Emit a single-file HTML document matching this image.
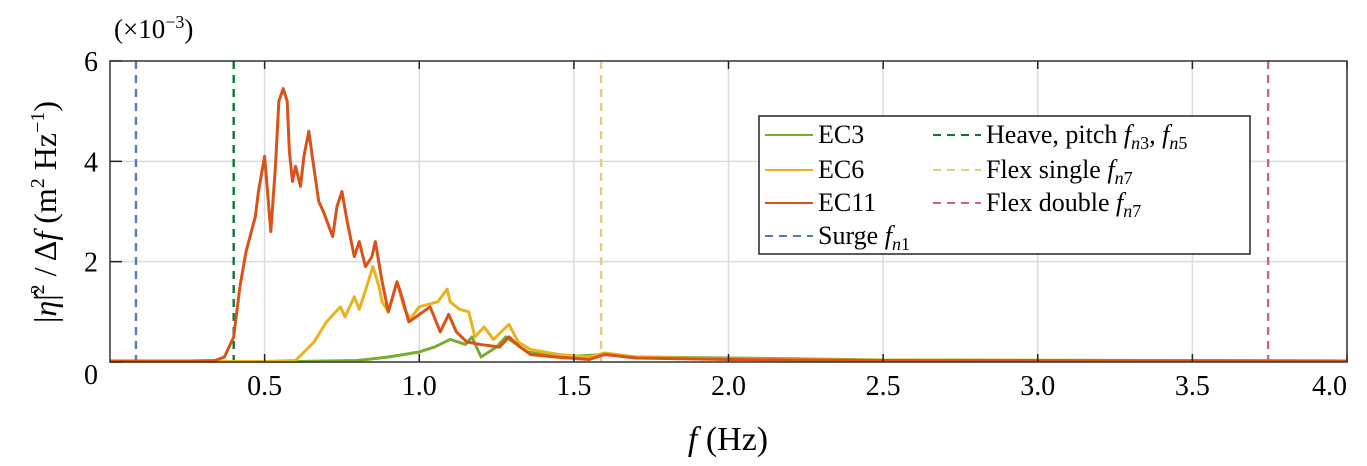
<!DOCTYPE html>
<html><head><meta charset="utf-8"><style>
body{margin:0;background:#fff}
svg{display:block;font-family:"Liberation Serif",serif}
</style></head><body>
<svg id="chart" width="1367" height="466" viewBox="0 0 1367 466">
<g id="grid"></g>
<g id="vlines"></g>
<g id="series"></g>
<g id="axes"></g>
<text x="114" y="38" font-size="27">(×10<tspan dy="-10" font-size="18">−3</tspan><tspan dy="10">)</tspan></text>
<text x="728" y="450" font-size="34" text-anchor="middle"><tspan font-style="italic">f</tspan>  (Hz)</text>
<text transform="translate(56,212) rotate(-90)" font-size="32" text-anchor="middle">|<tspan font-style="italic">η̂</tspan>|<tspan dy="-12" font-size="20">2</tspan><tspan dy="12"> / Δ</tspan><tspan font-style="italic">f</tspan> (m<tspan dy="-12" font-size="20">2</tspan><tspan dy="12"> Hz</tspan><tspan dy="-12" font-size="20">−1</tspan><tspan dy="12">)</tspan></text>
<g>
<rect x="759" y="116" width="491" height="138" fill="#fff" stroke="#222" stroke-width="1.5"/>
<g font-size="26">
<line x1="765" y1="135" x2="813" y2="135" stroke="#77ac30" stroke-width="2"/><text x="818" y="143">EC3</text>
<line x1="765" y1="170" x2="813" y2="170" stroke="#edb120" stroke-width="2"/><text x="818" y="178">EC6</text>
<line x1="765" y1="203" x2="813" y2="203" stroke="#d95319" stroke-width="2"/><text x="818" y="211">EC11</text>
<line x1="765" y1="236" x2="813" y2="236" stroke="#4a7fb5" stroke-width="2" stroke-dasharray="8,6"/><text x="818" y="244">Surge <tspan font-style="italic">f</tspan><tspan font-size="18" dy="6"><tspan font-style="italic">n</tspan>1</tspan></text>
<line x1="933" y1="135" x2="981" y2="135" stroke="#0a7a32" stroke-width="2" stroke-dasharray="8,6"/><text x="986" y="143">Heave, pitch <tspan font-style="italic">f</tspan><tspan font-size="18" dy="6"><tspan font-style="italic">n</tspan>3</tspan><tspan dy="-6">, </tspan><tspan font-style="italic">f</tspan><tspan font-size="18" dy="6"><tspan font-style="italic">n</tspan>5</tspan></text>
<line x1="933" y1="170" x2="981" y2="170" stroke="#e3cc7a" stroke-width="2" stroke-dasharray="8,6"/><text x="986" y="178">Flex single  <tspan font-style="italic">f</tspan><tspan font-size="18" dy="6"><tspan font-style="italic">n</tspan>7</tspan></text>
<line x1="933" y1="203" x2="981" y2="203" stroke="#d4627a" stroke-width="2" stroke-dasharray="8,6"/><text x="986" y="211">Flex double  <tspan font-style="italic">f</tspan><tspan font-size="18" dy="6"><tspan font-style="italic">n</tspan>7</tspan></text>
</g></g>
</svg>
<script>
const xTicks=[0.5,1.0,1.5,2.0,2.5,3.0,3.5,4.0];
const xTickLabels=["0.5","1.0","1.5","2.0","2.5","3.0","3.5","4.0"];
const yTicks=[0,2,4,6];
const yTickLabels=["0","2","4","6"];
const ec11F=[0,0.26,0.34,0.37,0.40,0.42,0.44,0.47,0.48,0.50,0.52,0.535,0.546,0.56,0.573,0.58,0.59,0.60,0.616,0.627,0.643,0.654,0.675,0.69,0.72,0.734,0.75,0.767,0.79,0.806,0.826,0.847,0.858,0.88,0.90,0.928,0.944,0.966,0.99,1.035,1.068,1.095,1.12,1.154,1.197,1.26,1.29,1.326,1.36,1.44,1.55,1.6,1.7,2.0,2.5,4.0];
const ec11V=[0.02,0.02,0.03,0.1,0.5,1.5,2.2,2.9,3.4,4.1,2.6,3.9,5.2,5.45,5.2,4.2,3.6,3.9,3.5,4.1,4.6,4.1,3.2,3.0,2.5,3.1,3.4,2.8,2.1,2.4,1.9,2.1,2.4,1.6,1.0,1.6,1.3,0.8,0.9,1.1,0.6,0.95,0.6,0.4,0.35,0.3,0.5,0.3,0.15,0.1,0.05,0.15,0.08,0.05,0.03,0.02];
const ec6F=[0,0.5,0.6,0.62,0.66,0.7,0.745,0.76,0.79,0.806,0.83,0.85,0.87,0.88,0.9,0.928,0.95,0.97,1.0,1.03,1.06,1.09,1.1,1.13,1.16,1.18,1.21,1.24,1.29,1.32,1.36,1.45,1.55,1.6,1.7,2.0,2.5,4.0];
const ec6V=[0.01,0.01,0.03,0.15,0.4,0.8,1.1,0.9,1.3,1.05,1.5,1.9,1.5,1.2,1.0,1.6,1.1,0.85,1.1,1.15,1.2,1.45,1.2,1.05,1.0,0.5,0.7,0.45,0.75,0.4,0.25,0.15,0.1,0.18,0.1,0.06,0.04,0.02];
const ec3F=[0,0.6,0.8,0.9,1.0,1.05,1.1,1.15,1.17,1.2,1.25,1.28,1.35,1.45,1.6,1.7,2.0,2.5,4.0];
const ec3V=[0.01,0.01,0.03,0.1,0.2,0.3,0.45,0.35,0.5,0.1,0.3,0.5,0.2,0.1,0.15,0.1,0.08,0.04,0.02];
const modeF=[0.084,0.40,1.588,3.745];
const modeNames=["surge-line","heave-pitch-line","flex-single-line","flex-double-line"];
const modeColors=["#4a7fb5","#0a7a32","#e3cc7a","#d4627a"];
const X0=110,X1=1347,Y0=362,Y1=61;
const sx=f=>X0+(f/4)*(X1-X0);
const sy=v=>Y0-(v/6)*(Y0-Y1);
const NS="http://www.w3.org/2000/svg";
function mk(tag,attrs,parent){const e=document.createElementNS(NS,tag);for(const k in attrs)e.setAttribute(k,attrs[k]);parent.appendChild(e);return e;}
const grid=document.getElementById('grid'),axes=document.getElementById('axes'),vl=document.getElementById('vlines'),ser=document.getElementById('series');
xTicks.forEach((t,i)=>{
  const g=mk('line',{x1:sx(t),x2:sx(t),y1:Y1,y2:Y0,stroke:'#dcdcdc','stroke-width':1.5},grid);
  
  
  mk('line',{x1:sx(t),x2:sx(t),y1:Y0,y2:Y0-8,stroke:'#222','stroke-width':1.5},axes);
  mk('line',{x1:sx(t),x2:sx(t),y1:Y1,y2:Y1+8,stroke:'#222','stroke-width':1.5},axes);
  const tx=mk('text',{x:sx(t),y:Y0+33,'font-size':28,'text-anchor':i==xTicks.length-1?'end':'middle'},axes);
  tx.textContent=xTickLabels[i];
  
  
});
yTicks.forEach((t,i)=>{
  if(t>0&&t<6){const g=mk('line',{x1:X0,x2:X1,y1:sy(t),y2:sy(t),stroke:'#dcdcdc','stroke-width':1.5},grid);
  
  }
  mk('line',{x1:X0,x2:X0+12,y1:sy(t),y2:sy(t),stroke:'#222','stroke-width':1.5},axes);
  const tx=mk('text',{x:X0-12,y:sy(t)+(t==0?22:10),'font-size':28,'text-anchor':'end'},axes);
  tx.textContent=yTickLabels[i];
  
  
});
mk('rect',{x:X0,y:Y1,width:X1-X0,height:Y0-Y1,fill:'none',stroke:'#333','stroke-width':1.5},axes);
modeF.forEach((f,i)=>{
  const l=mk('line',{x1:sx(f),x2:sx(f),y1:Y1,y2:Y0,stroke:modeColors[i],'stroke-width':2.4,'stroke-dasharray':'8,6'},vl);
  
  
});
function line(F,V,color,name){
  const p=mk('polyline',{points:F.map((f,i)=>sx(f)+','+sy(V[i])).join(' '),fill:'none',stroke:color,'stroke-width':3,'stroke-linejoin':'round'},ser);
  
  
}
line(ec3F,ec3V,'#77ac30','ec3-line');
line(ec6F,ec6V,'#edb120','ec6-line');
line(ec11F,ec11V,'#d95319','ec11-line');
</script>
</body></html>
